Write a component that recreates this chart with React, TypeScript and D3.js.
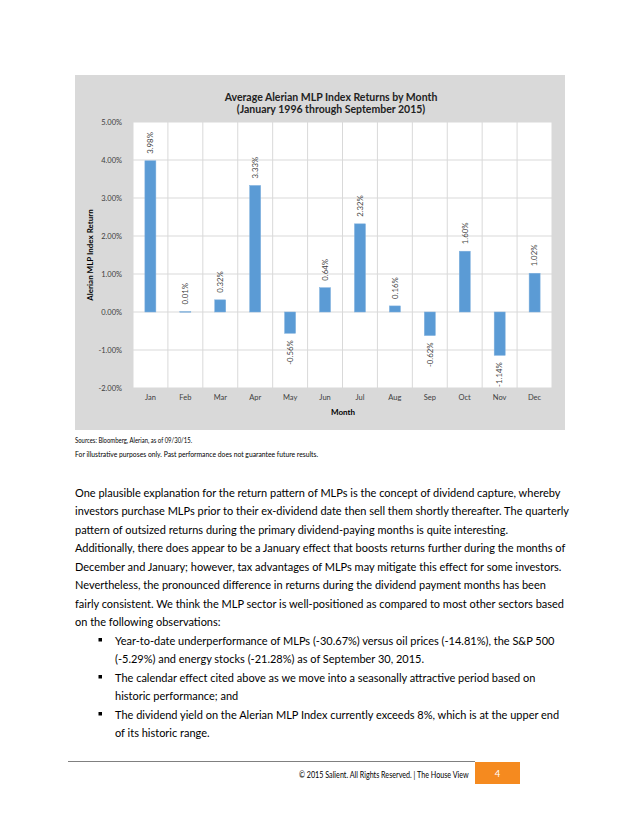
import React, { useLayoutEffect, useRef, useState } from "react";
import * as d3 from "d3";

const months = ["Jan", "Feb", "Mar", "Apr", "May", "Jun", "Jul", "Aug", "Sep", "Oct", "Nov", "Dec"];
const returns = [3.98, 0.01, 0.32, 3.33, -0.56, 0.64, 2.32, 0.16, -0.62, 1.6, -1.14, 1.02];
const yTicks = [5, 4, 3, 2, 1, 0, -1, -2];

const titleLines = ["Average Alerian MLP Index Returns by Month", "(January 1996 through September 2015)"];
const sourceLines = [
  "Sources: Bloomberg, Alerian, as of 09/30/15.",
  "For illustrative purposes only. Past performance does not guarantee future results.",
];
const paragraphLines = [
  "One plausible explanation for the return pattern of MLPs is the concept of dividend capture, whereby",
  "investors purchase MLPs prior to their ex-dividend date then sell them shortly thereafter. The quarterly",
  "pattern of outsized returns during the primary dividend-paying months is quite interesting.",
  "Additionally, there does appear to be a January effect that boosts returns further during the months of",
  "December and January; however, tax advantages of MLPs may mitigate this effect for some investors.",
  "Nevertheless, the pronounced difference in returns during the dividend payment months has been",
  "fairly consistent. We think the MLP sector is well-positioned as compared to most other sectors based",
  "on the following observations:",
];
const bulletLines = [
  { text: "Year-to-date underperformance of MLPs (-30.67%) versus oil prices (-14.81%), the S&P 500", bullet: true },
  { text: "(-5.29%) and energy stocks (-21.28%) as of September 30, 2015.", bullet: false },
  { text: "The calendar effect cited above as we move into a seasonally attractive period based on", bullet: true },
  { text: "historic performance; and", bullet: false },
  { text: "The dividend yield on the Alerian MLP Index currently exceeds 8%, which is at the upper end", bullet: true },
  { text: "of its historic range.", bullet: false },
];
const footerText = "© 2015 Salient. All Rights Reserved. | The House View";
const pageNumber = "4";

const FONT = "Lato, 'Open Sans', sans-serif";
const BODY_TARGET = 486; // target width of first paragraph line (layout)
const FOOTER_TARGET = 170;
const SOURCE_TARGETS = [117, 243];

export default function App() {
  const measureRef = useRef<SVGTextElement>(null);
  const footerMeasure = useRef<SVGTextElement>(null);
  const srcMeasure0 = useRef<SVGTextElement>(null);
  const srcMeasure1 = useRef<SVGTextElement>(null);
  const [bodySize, setBodySize] = useState(12);
  const [footerScale, setFooterScale] = useState(0.75);
  const [srcScale, setSrcScale] = useState([0.75, 0.75]);

  useLayoutEffect(() => {
    if (measureRef.current) {
      const w = measureRef.current.getComputedTextLength();
      if (w > 0) setBodySize((12 * BODY_TARGET) / w);
    }
    if (footerMeasure.current) {
      const w = footerMeasure.current.getComputedTextLength();
      if (w > 0) setFooterScale(FOOTER_TARGET / w);
    }
    const s = [srcMeasure0.current, srcMeasure1.current].map((el, i) => {
      const w = el ? el.getComputedTextLength() : 0;
      return w > 0 ? SOURCE_TARGETS[i] / w : 0.75;
    });
    setSrcScale(s);
  }, []);

  const plot = { left: 133, right: 552, top: 122, bottom: 388 };
  const x = d3.scaleBand<string>().domain(months).range([plot.left, plot.right]).paddingInner(0.685).paddingOuter(0.34);
  const band = d3.scaleBand<string>().domain(months).range([plot.left, plot.right]).padding(0);
  const y = d3.scaleLinear().domain([-2, 5]).range([plot.bottom, plot.top]);
  const fmt = (v: number) => v.toFixed(2) + "%";

  return (
    <svg width={640} height={828} style={{ position: "absolute", left: 0, top: 0, background: "#fff" }} fontFamily={FONT}>
      <g visibility="hidden">
        <text ref={measureRef} x={-3000} y={-100} fontSize={12}>{paragraphLines[0]}</text>
        <text ref={footerMeasure} x={-3000} y={-200} fontSize={9.5}>{footerText}</text>
        <text ref={srcMeasure0} x={-3000} y={-300} fontSize={8.2}>{sourceLines[0]}</text>
        <text ref={srcMeasure1} x={-3000} y={-400} fontSize={8.2}>{sourceLines[1]}</text>
      </g>
      {/* chart background */}
      <rect x={75} y={75} width={490} height={355} fill="#d9d9d9" />
      <rect x={plot.left} y={plot.top} width={plot.right - plot.left} height={plot.bottom - plot.top} fill="#fff" />
      {yTicks.map((t) => (
        <line key={"h" + t} x1={plot.left} x2={plot.right} y1={y(t)} y2={y(t)} stroke="#d9d9d9" strokeWidth={1} />
      ))}
      {months.map((m) => (
        <line key={"v" + m} x1={band(m)!} x2={band(m)!} y1={plot.top} y2={plot.bottom} stroke="#d9d9d9" strokeWidth={1} />
      ))}
      <line x1={plot.right} x2={plot.right} y1={plot.top} y2={plot.bottom} stroke="#d9d9d9" />
      {months.map((m, i) => {
        const v = returns[i];
        const y0 = y(0);
        const y1 = y(v);
        return (
          <rect key={"b" + m} x={x(m)!} width={x.bandwidth()} y={Math.min(y0, y1)} height={Math.max(Math.abs(y1 - y0), 0.6)} fill="#5b9bd5" stroke="#7fb0de" strokeWidth={0.5} />
        );
      })}
      {months.map((m, i) => {
        const v = returns[i];
        const cx = x(m)! + x.bandwidth() / 2;
        const yy = v >= 0 ? y(v) - 7 : y(v) + 7;
        return (
          <text key={"l" + m} transform={`translate(${cx + 2.8},${yy}) rotate(-90)`} fontSize={7.8} fill="#404040" textAnchor={v >= 0 ? "start" : "end"}>
            {fmt(v)}
          </text>
        );
      })}
      {yTicks.map((t) => (
        <text key={"yt" + t} x={122} y={y(t) + 2.7} fontSize={7.5} fill="#404040" textAnchor="end">
          {fmt(t)}
        </text>
      ))}
      {months.map((m) => (
        <text key={"xt" + m} x={band(m)! + band.bandwidth() / 2} y={400} fontSize={7.5} fill="#404040" textAnchor="middle">
          {m}
        </text>
      ))}
      <text x={343} y={415} fontSize={8} fontWeight="bold" fill="#000" textAnchor="middle">Month</text>
      <text transform={`translate(93,${(plot.top + plot.bottom) / 2}) rotate(-90)`} fontSize={8} fontWeight="bold" textAnchor="middle" fill="#000">
        Alerian MLP Index Return
      </text>
      {titleLines.map((t, i) => (
        <text key={"t" + i} x={331} y={101 + i * 11.5} fontSize={10.5} fontWeight="bold" textAnchor="middle" fill="#222">
          {t}
        </text>
      ))}
      {sourceLines.map((t, i) => (
        <text key={"s" + i} transform={`translate(75,${442.5 + i * 14.5}) scale(${srcScale[i]},1)`} fontSize={8.2} fill="#000">
          {t}
        </text>
      ))}
      {paragraphLines.map((t, i) => (
        <text key={"p" + i} x={75} y={496.5 + i * 18.5} fontSize={bodySize} fill="#000">
          {t}
        </text>
      ))}
      {bulletLines.map((b, i) => (
        <g key={"bl" + i}>
          {b.bullet && <rect x={98.5} y={640.5 + i * 18.5 - 2.5} width={3.5} height={3.5} fill="#000" />}
          <text x={115} y={644.5 + i * 18.5} fontSize={bodySize} fill="#000">
            {b.text}
          </text>
        </g>
      ))}
      {/* footer */}
      <line x1={68} x2={475} y1={761.5} y2={761.5} stroke="#808080" strokeWidth={1} />
      <text transform={`translate(299,777.5) scale(${footerScale},1)`} fontSize={9.5} fill="#000">
        {footerText}
      </text>
      <rect x={475} y={762} width={45} height={22} fill="#f58a1f" />
      <text x={497.5} y={776.5} fontSize={9.5} textAnchor="middle" fill="#fff">{pageNumber}</text>
    </svg>
  );
}
